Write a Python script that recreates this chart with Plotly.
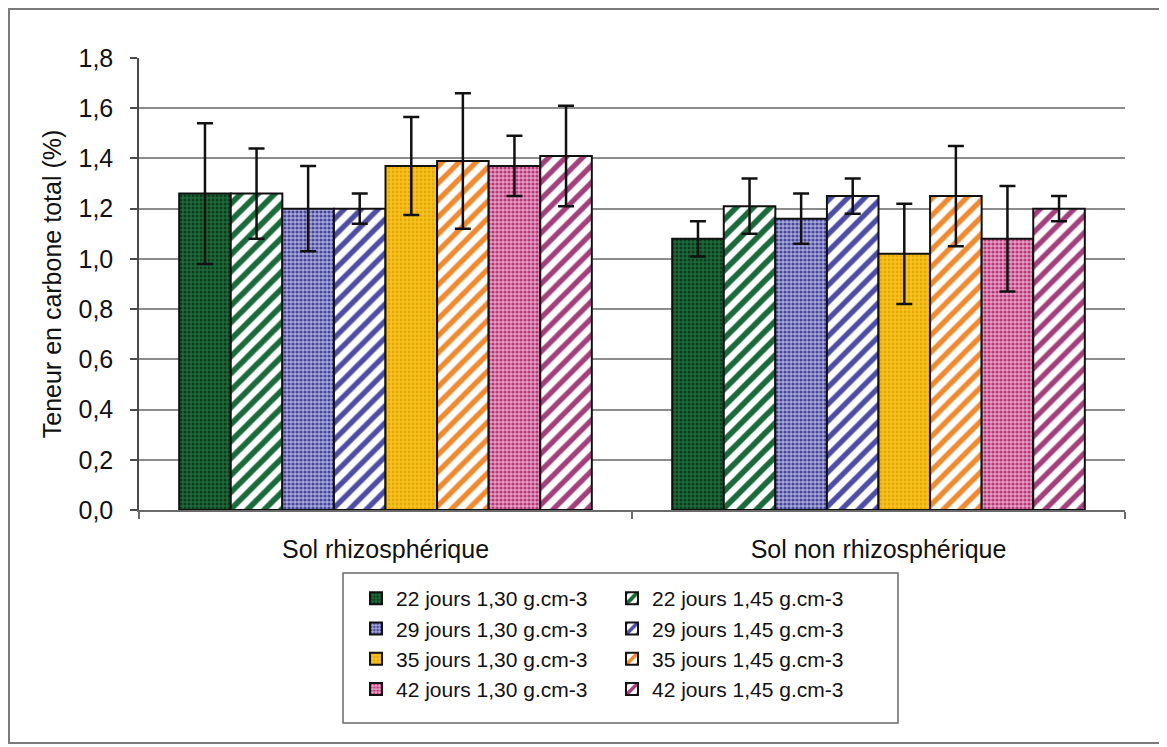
import plotly.graph_objects as go

# ---------------- data ----------------
categories = ["Sol rhizosphérique", "Sol non rhizosphérique"]

series_names = [
    "22 jours 1,30 g.cm-3", "22 jours 1,45 g.cm-3",
    "29 jours 1,30 g.cm-3", "29 jours 1,45 g.cm-3",
    "35 jours 1,30 g.cm-3", "35 jours 1,45 g.cm-3",
    "42 jours 1,30 g.cm-3", "42 jours 1,45 g.cm-3",
]

v22_130 = [1.26, 1.08]
v22_145 = [1.26, 1.21]
v29_130 = [1.20, 1.16]
v29_145 = [1.20, 1.25]
v35_130 = [1.37, 1.02]
v35_145 = [1.39, 1.25]
v42_130 = [1.37, 1.08]
v42_145 = [1.41, 1.20]

e22_130 = [0.28, 0.07]
e22_145 = [0.18, 0.11]
e29_130 = [0.17, 0.10]
e29_145 = [0.06, 0.07]
e35_130 = [0.195, 0.20]
e35_145 = [0.27, 0.20]
e42_130 = [0.12, 0.21]
e42_145 = [0.20, 0.05]

values = [v22_130, v22_145, v29_130, v29_145, v35_130, v35_145, v42_130, v42_145]
errors = [e22_130, e22_145, e29_130, e29_145, e35_130, e35_145, e42_130, e42_145]

y_ticks = [0.0, 0.2, 0.4, 0.6, 0.8, 1.0, 1.2, 1.4, 1.6, 1.8]
grid_vals = [0.2, 0.4, 0.6, 0.8, 1.0, 1.2, 1.4, 1.6]

# ---------------- styles ----------------
# (bg, fg, shape, size, solidity)
styles = [
    ("#1f6a3b", "#0b3c1d", ".", 4, 0.45),
    ("#ffffff", "#1b6a3b", "/", 12, 0.48),
    ("#a9a9dc", "#47479a", ".", 4, 0.5),
    ("#ffffff", "#4d4da6", "/", 12, 0.45),
    ("#f6c425", "#e9a700", ".", 4, 0.4),
    ("#ffffff", "#ef8a30", "/", 12, 0.45),
    ("#eaa0c6", "#b33a78", ".", 4, 0.5),
    ("#ffffff", "#a3407c", "/", 12, 0.45),
]

# the page body has an 8px margin; size the figure so that it fits the window
OFF = 8
W, H = 1167 - OFF, 747 - OFF
ML, MT = 139 - OFF, 58 - OFF
MR = W - (1125 - OFF)
MB = H - (510 - OFF)
PW, PH = W - ML - MR, H - MT - MB


def pxx(px):
    return (px - OFF - ML) / PW


def pxy(py):
    return (H - MB - (py - OFF)) / PH


fig = go.Figure()
for i, (name, vals, errs) in enumerate(zip(series_names, values, errors)):
    bg, fg, shp, sz, sol = styles[i]
    fig.add_trace(go.Bar(
        name=name,
        x=categories,
        y=vals,
        error_y=dict(type="data", array=errs, visible=True,
                     color="#111111", thickness=2.5, width=8),
        marker=dict(
            color=bg,
            line=dict(color="#111111", width=2),
            pattern=dict(shape=shp, fgcolor=fg, bgcolor=bg, size=sz,
                         solidity=sol, fillmode="replace"),
        ),
        legend="legend" if i % 2 == 0 else "legend2",
    ))

font_family = "Liberation Sans, Arial, sans-serif"

fig.update_layout(
    width=W, height=H,
    margin=dict(l=ML, r=MR, t=MT, b=MB, pad=0),
    paper_bgcolor="white",
    plot_bgcolor="white",
    separators=", ",
    barmode="group",
    bargap=0.163,
    bargroupgap=0.0,
    font=dict(family=font_family, color="#111111", size=25),
    xaxis=dict(
        showline=True, linecolor="#6a6a6a", linewidth=1.5,
        ticks="outside", ticklen=7, tickcolor="#6a6a6a", tickwidth=1.5,
        tickson="boundaries",
        ticklabelstandoff=16,
        tickfont=dict(size=25, family=font_family, color="#111111"),
        showgrid=False,
    ),
    yaxis=dict(
        range=[0, 1.8],
        tickvals=y_ticks,
        tickformat=".1f",
        showline=True, linecolor="#4a4a4a", linewidth=1.5,
        ticks="outside", ticklen=7, tickcolor="#4a4a4a", tickwidth=1.5,
        ticklabelstandoff=12,
        tickfont=dict(size=25, family=font_family, color="#111111"),
        showgrid=False,
        zeroline=False,
        minor=dict(tickvals=grid_vals, showgrid=True, gridcolor="#8c8c8c",
                   gridwidth=1.5, ticklen=0),
        title=dict(text="Teneur en carbone total (%)",
                   font=dict(size=25, family=font_family, color="#111111"),
                   standoff=10),
    ),
    legend=dict(
        x=pxx(356), xanchor="left", y=pxy(578), yanchor="top",
        bgcolor="rgba(0,0,0,0)", borderwidth=0,
        font=dict(size=21, family=font_family, color="#111111"),
        tracegroupgap=0, itemwidth=30,
    ),
    legend2=dict(
        x=pxx(612), xanchor="left", y=pxy(578), yanchor="top",
        bgcolor="rgba(0,0,0,0)", borderwidth=0,
        font=dict(size=21, family=font_family, color="#111111"),
        tracegroupgap=0, itemwidth=30,
    ),
    shapes=[
        dict(type="rect", xref="paper", yref="paper",
             x0=pxx(OFF + 1), x1=pxx(1162), y0=pxy(743), y1=pxy(OFF + 1),
             line=dict(color="#7a7a7a", width=2), fillcolor="rgba(0,0,0,0)",
             layer="below"),
        dict(type="rect", xref="paper", yref="paper",
             x0=pxx(343), x1=pxx(898), y0=pxy(723), y1=pxy(573),
             line=dict(color="#6a6a6a", width=1.5), fillcolor="rgba(0,0,0,0)"),
    ],
)

fig.write_html("out.html")
